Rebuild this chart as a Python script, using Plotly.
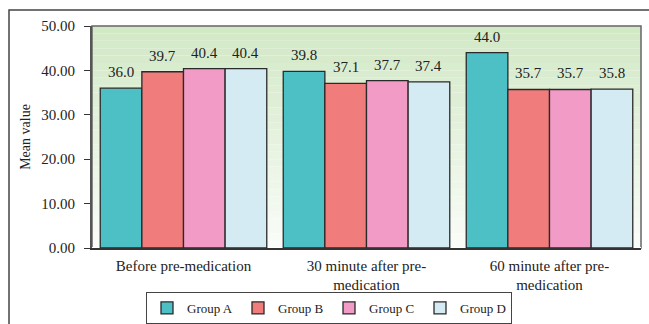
import plotly.graph_objects as go

categories = ["Before pre-medication", "30 minute after pre-<br>medication", "60 minute after pre-<br>medication"]
groups = ["Group A", "Group B", "Group C", "Group D"]
group_a = [36.0, 39.8, 44.0]
group_b = [39.7, 37.1, 35.7]
group_c = [40.4, 37.7, 35.7]
group_d = [40.4, 37.4, 35.8]
series = [group_a, group_b, group_c, group_d]
colors = ["#4cc0c4", "#f07c7b", "#f29bc6", "#d4ebf4"]
y_ticks = [0, 10, 20, 30, 40, 50]

W, H = 649, 324
L, R, T, B = 92, 8, 26, 76
pw, ph = W - L - R, H - T - B
BARGAP = 0.09

def px_x(p):
    return (p - L) / pw

def px_y(p):
    return (H - B - p) / ph

fig = go.Figure()
for name, vals, col in zip(groups, series, colors):
    fig.add_trace(go.Bar(
        x=categories, y=vals, name=name,
        marker=dict(color=col, line=dict(color="#2a2a2a", width=1.3)),
    ))

# value labels above bars
bar_px = pw / len(categories) * (1 - BARGAP) / len(groups)
annotations = []
for i, vals in enumerate(series):
    for cat, v in zip(categories, vals):
        annotations.append(dict(
            x=cat, y=v, xref="x", yref="y", text=f"{v:.1f}", showarrow=False,
            xshift=(i - (len(groups) - 1) / 2) * bar_px, yshift=16, yanchor="middle",
            font=dict(family="Liberation Serif", size=15, color="#222222")))

shapes = []
n = 30
top_c = (210, 233, 198)
bot_c = (250, 252, 248)
for i in range(n):
    f = i / (n - 1)
    c = tuple(int(top_c[k] + (bot_c[k] - top_c[k]) * f) for k in range(3))
    shapes.append(dict(type="rect", xref="x domain", yref="y domain",
                       x0=0, x1=1, y0=1 - (i + 1) / n, y1=1 - i / n,
                       fillcolor=f"rgb{c}", line=dict(width=0), layer="below"))
shapes.append(dict(type="rect", xref="x domain", yref="y domain", x0=0, x1=1, y0=0, y1=1,
                   line=dict(color="#666666", width=1.5), fillcolor="rgba(0,0,0,0)", layer="below"))
shapes.append(dict(type="rect", xref="paper", yref="paper",
                   x0=px_x(9), x1=px_x(700), y0=px_y(400), y1=px_y(10),
                   line=dict(color="#444444", width=1.5), fillcolor="rgba(0,0,0,0)"))

fig.update_layout(
    width=W, height=H,
    margin=dict(l=L, r=R, t=T, b=B, autoexpand=False),
    paper_bgcolor="white", plot_bgcolor="rgba(0,0,0,0)",
    barmode="group", bargap=BARGAP, bargroupgap=0,
    font=dict(family="Liberation Serif", color="#222222"),
    showlegend=True,
    legend=dict(orientation="h", x=px_x(329), xanchor="center", y=px_y(292), yanchor="top",
                bordercolor="#444444", borderwidth=1, bgcolor="white",
                font=dict(family="Liberation Serif", size=13, color="#222222"),
                itemwidth=30, entrywidth=46, tracegroupgap=0),
    shapes=shapes,
    annotations=annotations,
    xaxis=dict(showgrid=False, tickfont=dict(size=15, family="Liberation Serif"),
               showline=True, linecolor="#333333", linewidth=1.5, ticks="", automargin=False,
               ticklabelstandoff=3),
    yaxis=dict(range=[0, 50], tickvals=y_ticks, tickformat=".2f",
               showgrid=False, ticks="outside", ticklen=6, tickcolor="#333333",
               ticklabelstandoff=6, automargin=False,
               showline=True, linecolor="#555555", linewidth=2,
               tickfont=dict(size=15, family="Liberation Serif"),
               title=dict(text="Mean value", font=dict(size=14, family="Liberation Serif"), standoff=7)),
)

fig.write_html("out.html", config={"displayModeBar": False},
               post_script="document.body.style.margin='0';document.body.style.overflow='hidden';")
